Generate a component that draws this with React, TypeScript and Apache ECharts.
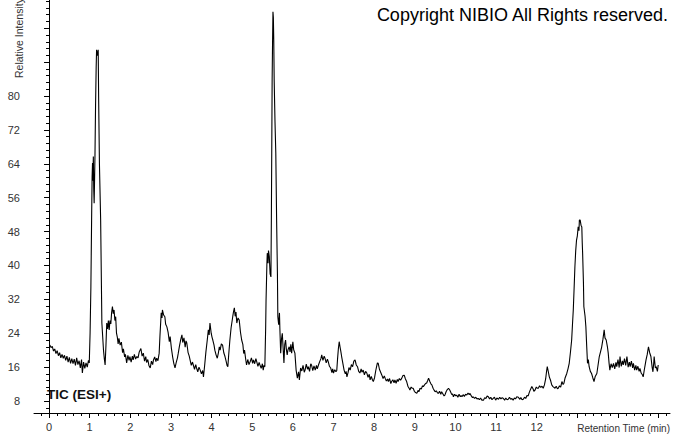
import React, { useEffect, useRef } from "react";
import * as echarts from "echarts";

const retentionTime = [
  0.02, 0.05, 0.08, 0.11, 0.14, 0.17, 0.2, 0.23, 0.26, 0.29, 0.32, 0.35, 0.38, 0.41, 0.44, 0.47, 0.5, 0.53, 0.56, 0.59, 0.62, 0.65, 0.68, 0.71, 0.74, 0.77, 0.8, 0.82, 0.85, 0.88, 0.91, 0.94, 0.97,
  0.99, 1.01, 1.03, 1.05, 1.06, 1.07, 1.08, 1.09, 1.1, 1.11, 1.12, 1.13, 1.145, 1.16, 1.17, 1.19, 1.21, 1.22, 1.24, 1.27, 1.3, 1.34, 1.36, 1.38,
  1.4, 1.42, 1.44, 1.46, 1.48, 1.5, 1.52, 1.54, 1.56, 1.58, 1.6, 1.62, 1.64, 1.66, 1.68, 1.7, 1.72, 1.75,
  1.78, 1.81, 1.83, 1.86, 1.88, 1.91, 1.94, 1.97, 1.99, 2.02, 2.05, 2.07, 2.1, 2.13, 2.16, 2.19, 2.22, 2.26, 2.29, 2.32, 2.35, 2.38, 2.4, 2.43, 2.46, 2.49, 2.52, 2.55, 2.57, 2.6, 2.63, 2.65, 2.68, 2.71, 2.73, 2.76, 2.78, 2.79, 2.82, 2.85, 2.87, 2.9, 2.93, 2.96, 2.98, 3.01, 3.04, 3.07, 3.1, 3.13, 3.16, 3.18, 3.21, 3.24, 3.27, 3.29, 3.32, 3.35, 3.37, 3.39, 3.42, 3.45, 3.47, 3.5, 3.53, 3.55, 3.58, 3.61, 3.63, 3.66, 3.69, 3.72, 3.75, 3.78, 3.8, 3.83, 3.86, 3.89, 3.92, 3.94, 3.96, 3.99, 4.01, 4.03, 4.06, 4.08, 4.11, 4.14, 4.17, 4.19, 4.21, 4.24, 4.27, 4.3, 4.33, 4.36, 4.38, 4.4, 4.42, 4.45, 4.48, 4.5, 4.52, 4.54, 4.56, 4.58, 4.6, 4.62, 4.65, 4.68, 4.71, 4.74, 4.77, 4.79, 4.81, 4.84, 4.86, 4.89, 4.92, 4.95, 4.98, 5.01, 5.03, 5.06, 5.09, 5.11, 5.14, 5.17, 5.19, 5.22, 5.25, 5.27, 5.29, 5.31,
  5.33, 5.34, 5.36, 5.37, 5.39, 5.4, 5.42, 5.44, 5.46, 5.47, 5.48, 5.49, 5.5, 5.51, 5.52, 5.53, 5.54, 5.56, 5.58, 5.6, 5.62, 5.63, 5.65, 5.67, 5.68, 5.7, 5.72, 5.74, 5.76, 5.78, 5.8, 5.82, 5.84, 5.86, 5.88, 5.91, 5.93, 5.95, 5.97, 6.0, 6.02, 6.05, 6.08, 6.11, 6.14, 6.16, 6.19, 6.22, 6.25, 6.28, 6.3, 6.33, 6.36, 6.38, 6.41, 6.44, 6.46, 6.49, 6.52, 6.55, 6.58, 6.6, 6.63, 6.66, 6.69, 6.71, 6.74, 6.77, 6.79, 6.82, 6.85, 6.87, 6.9, 6.93, 6.96, 6.98, 7.0, 7.03, 7.06, 7.08, 7.1, 7.12, 7.14, 7.16, 7.18, 7.2, 7.23, 7.26, 7.29, 7.31, 7.33, 7.36, 7.38, 7.41, 7.44, 7.47, 7.5, 7.53, 7.56, 7.59, 7.62, 7.65, 7.68, 7.7, 7.73, 7.76, 7.79, 7.82, 7.85, 7.88, 7.9, 7.93, 7.96, 7.98,
  8.01, 8.04, 8.06, 8.08, 8.1, 8.13, 8.16, 8.19, 8.22, 8.25, 8.27, 8.3, 8.33, 8.35, 8.38, 8.41, 8.43, 8.46, 8.49, 8.51, 8.54, 8.57, 8.59, 8.62, 8.65, 8.68, 8.71, 8.74, 8.77, 8.8, 8.83, 8.86, 8.88, 8.91, 8.94, 8.96, 8.99, 9.02, 9.05, 9.08, 9.1, 9.13, 9.16, 9.19, 9.21, 9.24, 9.27, 9.29, 9.32, 9.34, 9.37, 9.4, 9.42, 9.45, 9.48, 9.5, 9.53, 9.56, 9.58, 9.61, 9.64, 9.66, 9.69, 9.72, 9.74, 9.77, 9.8, 9.83, 9.86, 9.88, 9.91, 9.93, 9.95, 9.98,
  10.01, 10.03, 10.06, 10.09, 10.12, 10.14, 10.16, 10.19, 10.22, 10.25, 10.28, 10.31, 10.34, 10.36, 10.39, 10.42, 10.44, 10.47, 10.5, 10.53, 10.56, 10.59, 10.62, 10.65, 10.69, 10.72, 10.75, 10.78, 10.81, 10.84, 10.87, 10.9, 10.93, 10.96, 10.99,
  11.02, 11.06, 11.09, 11.12, 11.15, 11.18, 11.21, 11.24, 11.27, 11.3, 11.33, 11.36, 11.39, 11.42, 11.45, 11.48, 11.51, 11.55, 11.58, 11.61, 11.64, 11.67, 11.7, 11.73, 11.76, 11.79, 11.82, 11.85, 11.88, 11.91, 11.93, 11.96, 11.99,
  12.02, 12.04, 12.07, 12.1, 12.13, 12.16, 12.19, 12.22, 12.24, 12.26, 12.28, 12.31, 12.34, 12.37, 12.4, 12.43, 12.45, 12.48, 12.51, 12.53, 12.56, 12.59, 12.62, 12.65, 12.67, 12.7, 12.74, 12.77, 12.8, 12.83, 12.86, 12.88, 12.9, 12.92, 12.94, 12.96, 12.98,
  13.0, 13.02, 13.04, 13.05, 13.07, 13.09, 13.11, 13.12, 13.13, 13.15, 13.16, 13.19, 13.21, 13.23, 13.25, 13.27, 13.29, 13.32, 13.35, 13.38, 13.41, 13.44, 13.48, 13.51, 13.54, 13.57, 13.6, 13.63, 13.66, 13.68, 13.71, 13.74, 13.76, 13.78, 13.8, 13.83, 13.86, 13.89, 13.92, 13.95, 13.97,
  14.0, 14.03, 14.05, 14.08, 14.11, 14.13, 14.16, 14.19, 14.22, 14.25, 14.28, 14.3, 14.33, 14.36, 14.38, 14.41, 14.44, 14.46, 14.49, 14.52, 14.54, 14.57, 14.6, 14.62, 14.65, 14.67, 14.69, 14.72, 14.75, 14.78, 14.81, 14.84, 14.86, 14.88, 14.89, 14.92, 14.94, 14.97, 14.99,
];

const intensity = [
  21.2, 20.6, 20.9, 19.8, 20.3, 19.2, 19.9, 18.7, 19.4, 18.2, 19.0, 18.1, 18.8, 17.6, 18.6, 17.2, 18.3, 16.9, 18.0, 16.8, 17.9, 16.4, 18.2, 16.6, 17.5, 15.8, 17.8, 14.6, 17.2, 15.7, 17.0, 16.0, 17.6,
  17.0, 24.0, 35.0, 53.0, 61.0, 64.2, 60.0, 65.7, 58.0, 54.7, 60.0, 65.7, 78.0, 86.9, 90.9, 89.5, 90.9, 80.0, 64.0, 50.7, 26.4, 20.0, 18.0, 16.5,
  21.0, 26.4, 25.0, 27.0, 24.8, 27.0, 26.2, 28.9, 30.3, 28.6, 29.5, 27.0, 27.9, 24.0, 23.1, 21.5, 22.8, 21.2,
  21.9, 19.4, 20.3, 18.4, 19.0, 17.0, 18.8, 17.6, 18.5, 17.2, 18.6, 17.7, 19.0, 17.9, 18.5, 18.2, 19.6, 20.4, 18.6, 19.3, 17.4, 18.5, 17.1, 17.8, 16.3, 15.8, 17.4, 16.6, 17.7, 18.4, 17.3, 18.1, 17.5, 19.3, 23.5, 28.8, 27.6, 29.5, 28.3, 27.9, 26.1, 25.5, 24.2, 22.0, 23.2, 20.5, 18.5, 16.9, 15.8, 17.1, 18.2, 19.3, 21.0, 22.5, 23.6, 21.8, 22.9, 20.7, 22.2, 21.7, 19.5, 18.6, 17.7, 16.4, 17.2, 16.5, 15.5, 16.6, 15.8, 14.9, 16.0, 15.3, 14.4, 15.2, 13.7, 16.5, 19.6, 22.1, 24.8, 23.6, 26.4, 24.0, 23.1, 22.4, 21.2, 20.0, 18.9, 18.1, 19.5, 20.8, 20.0, 21.5, 21.2, 19.4, 18.5, 17.3, 16.4, 16.1, 18.8, 22.4, 25.3, 26.6, 27.9, 29.1, 30.0, 28.0, 29.0, 26.4, 27.6, 27.1, 24.3, 22.4, 21.3, 19.2, 20.0, 17.8, 16.5, 17.8, 16.6, 17.3, 18.2, 16.9, 17.7, 16.8, 18.0, 17.3, 16.2, 17.1, 16.5, 15.7, 16.8, 15.3, 16.4, 16.1,
  25.0, 31.8, 40.0, 42.9, 40.5, 43.5, 42.1, 38.0, 37.3, 50.0, 66.5, 84.0, 92.5, 99.9, 98.5, 93.0, 83.8, 74.0, 66.5, 50.7, 38.0, 27.9, 26.0, 28.8, 25.2, 19.3, 22.6, 24.0, 20.5, 17.0, 21.4, 22.4, 20.2, 18.9, 20.1, 20.8, 19.6, 21.4, 19.3, 22.0, 20.1, 19.3, 15.3, 13.4, 14.9, 13.0, 15.8, 15.1, 16.4, 14.8, 15.3, 16.7, 15.5, 16.1, 15.0, 16.8, 16.5, 15.2, 16.3, 15.3, 16.4, 15.6, 16.5, 17.3, 18.0, 18.9, 17.6, 18.6, 18.1, 17.0, 17.9, 17.3, 16.2, 15.8, 14.7, 15.6, 14.6, 15.4, 14.9, 15.2, 18.0, 20.4, 22.0, 20.8, 19.7, 18.5, 16.9, 15.3, 14.4, 15.0, 13.7, 14.8, 15.9, 15.3, 16.6, 16.1, 17.4, 17.7, 16.5, 16.1, 15.0, 14.6, 15.6, 14.8, 15.3, 14.2, 15.0, 14.6, 13.6, 14.3, 13.0, 13.8, 12.9, 12.6,
  13.5, 15.2, 16.1, 17.0, 16.9, 15.5, 14.8, 14.1, 13.3, 13.9, 13.4, 12.7, 13.2, 12.6, 13.3, 12.1, 12.6, 13.0, 12.3, 13.0, 12.2, 13.1, 12.6, 13.3, 12.9, 13.4, 14.0, 14.1, 13.2, 12.6, 11.5, 11.0, 10.6, 11.3, 11.0, 11.0, 10.3, 10.0, 9.8, 10.5, 10.2, 11.0, 10.8, 11.6, 11.4, 11.8, 12.2, 12.2, 12.9, 13.4, 12.6, 12.0, 11.8, 11.0, 10.5, 10.2, 10.4, 9.9, 9.8, 10.3, 9.6, 10.2, 9.7, 9.2, 9.4, 10.2, 10.7, 11.0, 10.6, 10.2, 9.5, 9.7, 9.0, 9.6,
  9.2, 9.4, 8.9, 9.6, 9.0, 9.3, 9.0, 9.5, 9.1, 9.6, 9.4, 9.9, 9.5, 9.8, 9.2, 8.8, 9.0, 8.6, 8.9, 8.5, 8.6, 8.3, 8.7, 8.2, 8.2, 8.8, 8.6, 9.2, 9.0, 8.5, 8.9, 8.3, 8.6, 8.9, 8.2,
  8.7, 8.4, 8.9, 8.5, 8.8, 8.6, 8.2, 8.7, 8.3, 8.4, 8.9, 8.4, 8.6, 8.2, 8.7, 8.5, 9.0, 8.9, 8.4, 8.8, 8.3, 8.4, 8.9, 8.6, 9.3, 9.2, 10.1, 10.8, 11.4, 10.9, 10.3, 10.6, 11.3,
  11.0, 11.0, 11.6, 11.2, 11.5, 11.0, 11.8, 13.2, 14.8, 16.1, 15.2, 13.7, 12.9, 11.8, 11.4, 11.2, 11.0, 11.5, 10.9, 11.0, 11.6, 11.3, 12.6, 11.9, 12.2, 13.5, 14.5, 15.6, 16.9, 19.5, 22.4, 26.0, 29.5, 34.5, 39.7, 43.5, 46.0,
  47.0, 49.1, 48.2, 50.7, 50.7, 49.5, 49.1, 45.5, 42.9, 36.0, 30.3, 28.0, 25.5, 21.0, 16.9, 17.8, 16.1, 15.0, 14.5, 13.5, 12.6, 13.8, 14.5, 16.5, 18.5, 19.6, 20.8, 22.6, 24.8, 22.9, 22.4, 20.8, 19.3, 17.0, 15.3, 16.8, 15.9, 16.9, 15.6, 17.1, 16.1,
  17.8, 15.9, 18.5, 16.2, 17.5, 16.5, 18.0, 16.4, 18.5, 16.0, 17.2, 16.1, 17.4, 15.8, 16.9, 15.3, 16.4, 15.3, 16.2, 15.0, 15.7, 14.6, 14.2, 13.7, 15.5, 16.6, 17.7, 19.0, 20.8, 19.4, 18.5, 16.0, 14.9, 17.0, 18.5, 15.8, 16.1, 15.0, 16.5,
];

const xLabelValues = [0, 1, 2, 3, 4, 5, 6, 7, 8, 9, 10, 11, 12];
const xMajorTicks = [0, 1, 2, 3, 4, 5, 6, 7, 8, 9, 10, 11, 12, 13, 14, 15];
const xMinorTicks = [
  -0.2, 0.2, 0.4, 0.6, 0.8, 1.2, 1.4, 1.6, 1.8, 2.2, 2.4, 2.6, 2.8, 3.2, 3.4, 3.6, 3.8, 4.2, 4.4, 4.6, 4.8,
  5.2, 5.4, 5.6, 5.8, 6.2, 6.4, 6.6, 6.8, 7.2, 7.4, 7.6, 7.8, 8.2, 8.4, 8.6, 8.8, 9.2, 9.4, 9.6, 9.8,
  10.2, 10.4, 10.6, 10.8, 11.2, 11.4, 11.6, 11.8, 12.2, 12.4, 12.6, 12.8, 13.2, 13.4, 13.6, 13.8,
  14.2, 14.4, 14.6, 14.8, 15.2,
];
const yLabelValues = [8, 16, 24, 32, 40, 48, 56, 64, 72, 80];
const yMajorTicks = [8, 16, 24, 32, 40, 48, 56, 64, 72, 80, 88, 96];
const yMinorTicks = [
  6.4, 9.6, 11.2, 12.8, 14.4, 17.6, 19.2, 20.8, 22.4, 25.6, 27.2, 28.8, 30.4, 33.6, 35.2, 36.8, 38.4,
  41.6, 43.2, 44.8, 46.4, 49.6, 51.2, 52.8, 54.4, 57.6, 59.2, 60.8, 62.4, 65.6, 67.2, 68.8, 70.4,
  73.6, 75.2, 76.8, 78.4, 81.6, 83.2, 84.8, 86.4, 89.6, 91.2, 92.8, 94.4, 97.6, 99.2, 100.8, 102.4,
];

const X_MIN = -0.37;
const X_MAX = 15.28;
const Y_MIN = 5.17;
const Y_MAX = 102.66;

const FONT = "'Liberation Sans', Arial, sans-serif";

export default function App() {
  const ref = useRef<HTMLDivElement>(null);

  useEffect(() => {
    if (!ref.current) return;
    const chart = echarts.init(ref.current, undefined, { renderer: "svg" });
    const data = retentionTime.map((t, i) => [t, intensity[i]]);
    const axisColor = "#000";
    const labelColor = "#333";

    chart.setOption({
      animation: false,
      backgroundColor: "#fff",
      grid: { left: 34, right: 4, top: 0, bottom: 21, containLabel: false },
      xAxis: [
        {
          type: "value",
          min: X_MIN,
          max: X_MAX,
          position: "bottom",
          axisLine: { show: true, lineStyle: { color: axisColor, width: 1 } },
          axisTick: { show: true, customValues: xMajorTicks, length: 5, lineStyle: { color: axisColor } },
          axisLabel: { customValues: xLabelValues, margin: 8, fontSize: 11, color: labelColor, fontFamily: FONT },
          splitLine: { show: false },
        },
        {
          type: "value",
          min: X_MIN,
          max: X_MAX,
          position: "bottom",
          axisLine: { show: false },
          axisTick: { show: true, customValues: xMinorTicks, length: 3, lineStyle: { color: axisColor } },
          axisLabel: { show: false },
          splitLine: { show: false },
        },
      ],
      yAxis: [
        {
          type: "value",
          min: Y_MIN,
          max: Y_MAX,
          position: "left",
          axisLine: { show: true, lineStyle: { color: axisColor, width: 1 } },
          axisTick: { show: true, customValues: yMajorTicks, length: 5, lineStyle: { color: axisColor } },
          axisLabel: { customValues: yLabelValues, margin: 14, fontSize: 11, color: labelColor, fontFamily: FONT },
          splitLine: { show: false },
        },
        {
          type: "value",
          min: Y_MIN,
          max: Y_MAX,
          position: "left",
          axisLine: { show: false },
          axisTick: { show: true, customValues: yMinorTicks, length: 3, lineStyle: { color: axisColor } },
          axisLabel: { show: false },
          splitLine: { show: false },
        },
      ],
      series: [
        {
          type: "line",
          xAxisIndex: 0,
          yAxisIndex: 0,
          data,
          showSymbol: false,
          symbol: "none",
          smooth: false,
          lineStyle: { color: "#000", width: 1.1 },
          clip: true,
        },
      ],
      graphic: [
        {
          type: "text",
          x: 668,
          y: 15,
          style: { text: "Copyright NIBIO All Rights reserved.", fill: "#000", font: `18px ${FONT}`, align: "right", verticalAlign: "middle" },
        },
        {
          type: "text",
          x: 47,
          y: 394,
          style: { text: "TIC (ESI+)", fill: "#111", font: `bold 13.5px ${FONT}`, align: "left", verticalAlign: "middle" },
        },
        {
          type: "text",
          x: 670,
          y: 428,
          style: { text: "Retention Time (min)", fill: labelColor, font: `10px ${FONT}`, align: "right", verticalAlign: "middle" },
        },
        {
          type: "text",
          x: 19,
          y: 78,
          rotation: Math.PI / 2,
          style: { text: "Relative Intensity", fill: labelColor, font: `10.5px ${FONT}`, align: "left", verticalAlign: "middle" },
        },
      ],
    });

    return () => {
      chart.dispose();
    };
  }, []);

  return (
    <div
      ref={ref}
      style={{ position: "fixed", left: 0, top: 0, width: 674, height: 434, background: "#fff" }}
    />
  );
}
